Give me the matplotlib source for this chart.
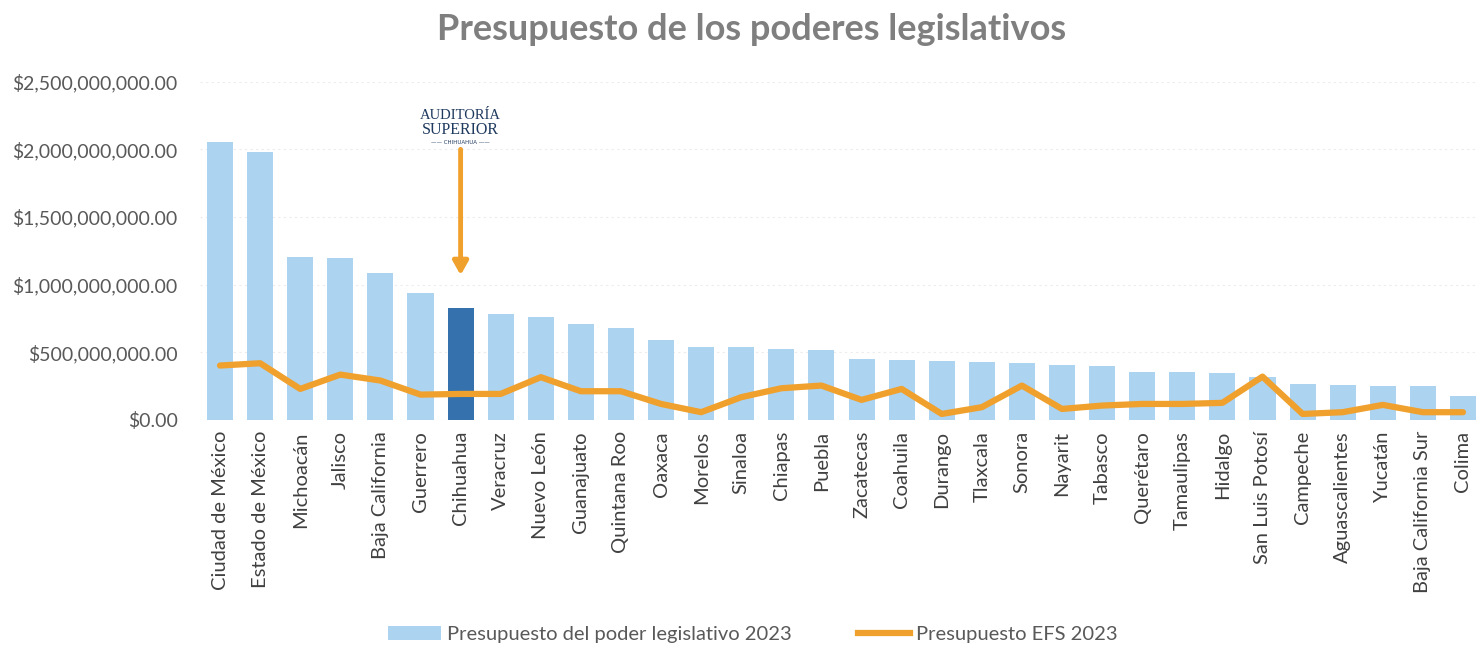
"""Presupuesto de los poderes legislativos 2023."""

import matplotlib
matplotlib.use("Agg")
import matplotlib.pyplot as plt
from matplotlib.ticker import FuncFormatter, MultipleLocator
from matplotlib.patches import Patch
from matplotlib.lines import Line2D

estados = [
    "Ciudad de México", "Estado de México", "Michoacán", "Jalisco", "Baja California",
    "Guerrero", "Chihuahua", "Veracruz", "Nuevo León", "Guanajuato", "Quintana Roo",
    "Oaxaca", "Morelos", "Sinaloa", "Chiapas", "Puebla", "Zacatecas", "Coahuila",
    "Durango", "Tlaxcala", "Sonora", "Nayarit", "Tabasco", "Querétaro", "Tamaulipas",
    "Hidalgo", "San Luis Potosí", "Campeche", "Aguascalientes", "Yucatán",
    "Baja California Sur", "Colima",
]

# millones de pesos
poder_legislativo = [
    2054, 1980, 1203, 1198, 1085, 939, 826, 784, 764, 710, 683,
    589, 542, 540, 525, 518, 451, 444, 436, 429, 422, 407,
    399, 355, 355, 348, 318, 266, 259, 251, 251, 178,
]
efs = [
    402, 419, 229, 335, 291, 187, 192, 192, 316, 212, 212,
    118, 57, 168, 234, 254, 148, 229, 44, 94, 254, 81,
    106, 118, 118, 126, 320, 44, 57, 111, 57, 57,
]
destacado = "Chihuahua"

plt.rcParams["font.family"] = ["Lato", "DejaVu Sans"]

BAR = "#acd3f0"
BAR_DARK = "#3572ad"
ORANGE = "#f0a02c"
GREY = "#595959"

fig = plt.figure(figsize=(14.77, 6.49), dpi=100)
ax = fig.add_axes([0.1354, 0.353, 0.8646, 0.521])

x = list(range(len(estados)))
vals = [v * 1e6 for v in poder_legislativo]
colors = [BAR_DARK if e == destacado else BAR for e in estados]
ax.bar(x, vals, width=0.65, color=colors, zorder=2)
ax.plot(x, [v * 1e6 for v in efs], color=ORANGE, linewidth=4.5,
        solid_joinstyle="round", solid_capstyle="round", zorder=3)

ax.set_xlim(-0.5, 31.35)
ax.set_ylim(0, 2.5e9)
ax.yaxis.set_major_locator(MultipleLocator(5e8))
ax.yaxis.set_major_formatter(FuncFormatter(lambda v, p: f"${v:,.2f}"))
ax.grid(axis="y", color="#ececec", linestyle=(0, (2, 3)), linewidth=0.8, zorder=0)
for s in ax.spines.values():
    s.set_visible(False)
ax.tick_params(axis="y", length=0, labelsize=14, labelcolor=GREY, pad=16)
ax.tick_params(axis="x", length=0, labelsize=14.5, labelcolor="#404040", pad=8)
ax.set_xticks(x)
ax.set_xticklabels(estados, rotation=90)

# logo + flecha sobre Chihuahua
ic = estados.index(destacado)
ax.annotate("", xy=(ic, 1.07e9), xytext=(ic, 2.0e9),
            arrowprops=dict(arrowstyle="-|>,head_width=0.45,head_length=0.8",
                            color=ORANGE, lw=3.5, shrinkA=0, shrinkB=0), zorder=4)
ax.text(ic, 2.25e9, "AUDITORÍA", ha="center", va="center", family="Liberation Serif",
        fontsize=10.5, color="#1f3a5f")
ax.text(ic, 2.145e9, "SUPERIOR", ha="center", va="center", family="Liberation Serif",
        fontsize=11.5, color="#1f3a5f")
ax.text(ic, 2.05e9, "—— CHIHUAHUA ——", ha="center", va="center", family="DejaVu Sans",
        fontsize=4, color="#1f3a5f")

fig.text(0.509, 0.955, "Presupuesto de los poderes legislativos", ha="center", va="center",
         fontsize=26, fontweight="bold", color="#7f7f7f")

handles = [Patch(facecolor=BAR, edgecolor="none"),
           Line2D([0], [0], color=ORANGE, linewidth=4.5)]
fig.legend(handles, ["Presupuesto del poder legislativo 2023", "Presupuesto EFS 2023"],
           loc="center", bbox_to_anchor=(0.51, 0.022), ncol=2, frameon=False,
           fontsize=14.5, labelcolor=GREY, handlelength=2.6, handletextpad=0.3,
           columnspacing=3.3)

fig.savefig("out.png", dpi=100)
